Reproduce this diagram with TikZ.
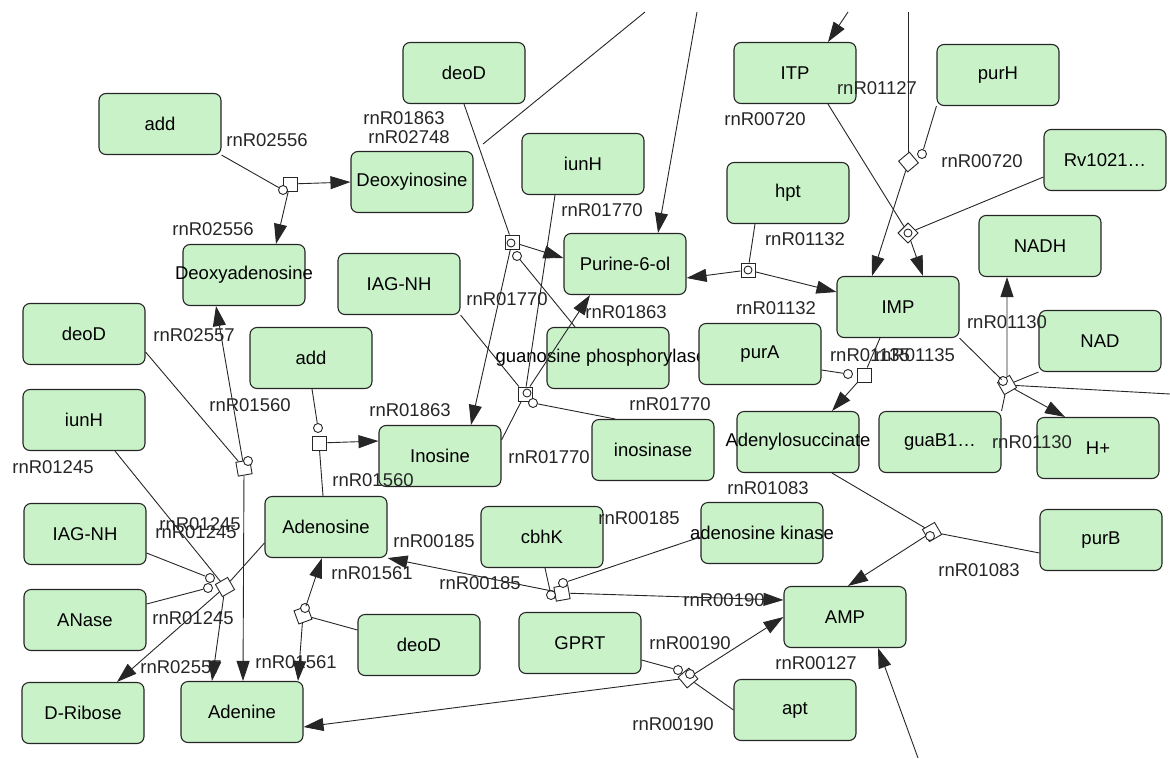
\documentclass[tikz,border=0pt]{standalone}
\usepackage{fontspec}
\setmainfont{Liberation Sans}
\usetikzlibrary{arrows.meta}
\definecolor{boxgreen}{HTML}{C9F2C9}
\newcommand{\mytx}[1]{\makebox[0pt][c]{#1}}
\begin{document}
\begin{tikzpicture}[x=1pt,y=-1pt,
  every node/.style={font=\fontsize{18.5}{20}\selectfont},
  ent/.style={draw=black!85, line width=1.1pt, fill=boxgreen, rounded corners=7pt, minimum width=122pt, minimum height=61pt, inner sep=0pt},
  rxn/.style={draw=black!85, fill=white, line width=0.9pt, minimum size=14pt, inner sep=0pt},
  cat/.style={circle, draw=black!85, fill=white, line width=0.9pt, minimum size=9pt, inner sep=0pt},
  lbl/.style={text=black!85, inner sep=0pt},
  con/.style={draw=black!85, line width=0.9pt},
  arr/.style={con, -{Triangle[length=20pt,width=13pt]}},
]
\useasboundingbox (0,0) rectangle (1170,758);

% entities
\node[ent] (add1) at (160,124) {\mytx{add}};
\node[ent] (deoD1) at (464,73) {\mytx{deoD}};
\node[ent] (dino) at (412,182) {\mytx{Deoxyinosine}};
\node[ent] (iunH1) at (583,164) {\mytx{iunH}};
\node[ent] (itp) at (795,73) {\mytx{ITP}};
\node[ent] (purH) at (998,75) {\mytx{purH}};
\node[ent] (rv) at (1105,160) {\mytx{Rv1021…}};
\node[ent] (hpt) at (788,193) {\mytx{hpt}};
\node[ent] (dade) at (244,275) {\mytx{Deoxyadenosine}};
\node[ent] (iag1) at (399,284) {\mytx{IAG-NH}};
\node[ent] (pur) at (625,264) {\mytx{Purine-6-ol}};
\node[ent] (nadh) at (1040,246) {\mytx{NADH}};
\node[ent] (imp) at (898,307) {\mytx{IMP}};
\node[ent] (deoD2) at (84,334) {\mytx{deoD}};
\node[ent] (add2) at (311,358) {\mytx{add}};
\node[ent] (gp) at (608,358) {\mytx{\hspace*{-14pt}guanosine phosphorylase}};
\node[ent] (purA) at (760,354) {\mytx{purA}};
\node[ent] (nad) at (1100,341) {\mytx{NAD}};
\node[ent] (iunH2) at (84,420) {\mytx{iunH}};
\node[ent] (ino) at (440,456) {\mytx{Inosine}};
\node[ent] (inase) at (653,450) {\mytx{inosinase}};
\node[ent] (adsu) at (798,442) {\mytx{Adenylosuccinate}};
\node[ent] (guaB) at (940,442) {\mytx{guaB1…}};
\node[ent] (hp) at (1098,448) {\mytx{H+}};
\node[ent] (ados) at (326,527) {\mytx{Adenosine}};
\node[ent] (iag2) at (85,534) {\mytx{IAG-NH}};
\node[ent] (cbhK) at (542,537) {\mytx{cbhK}};
\node[ent] (adk) at (762,533) {\mytx{adenosine kinase}};
\node[ent] (purB) at (1101,540) {\mytx{purB}};
\node[ent] (anase) at (85,620) {\mytx{ANase}};
\node[ent] (amp) at (845,617) {\mytx{AMP}};
\node[ent] (deoD3) at (419,645) {\mytx{deoD}};
\node[ent] (gprt) at (580,643) {\mytx{GPRT}};
\node[ent] (aden) at (242,712) {\mytx{Adenine}};
\node[ent] (drib) at (83,713) {\mytx{D-Ribose}};
\node[ent] (apt) at (795,710) {\mytx{apt}};

% free ends
\coordinate (topA) at (645,12);
\coordinate (jA) at (483,144);
\coordinate (topB) at (697,12);
\coordinate (topC) at (848,12);
\coordinate (topD) at (908.5,12);
\coordinate (rightE) at (1170,394);
\coordinate (botF) at (918,758);

% reaction nodes
\node[rxn] (s1) at (290,184) {};
\node[cat] (c1) at (283,190) {};
\node[rxn] (sU) at (512,242) {};
\node[cat, minimum size=8pt] (cU1) at (511,243) {};
\node[cat] (cU2) at (517,256) {};
\node[rxn] (sL) at (525,394) {};
\node[cat, minimum size=8pt] (cL1) at (527,393) {};
\node[cat] (cL2) at (533,403) {};
\node[rxn, rotate=10] (sA) at (244,468) {};
\node[cat] (cA) at (248,461) {};
\node[rxn] (sB) at (319,443) {};
\node[cat] (cB) at (318,428) {};
\node[rxn, rotate=30] (sC) at (225,587) {};
\node[cat] (cC1) at (210,578) {};
\node[cat] (cC2) at (208,588) {};
\node[rxn, rotate=20] (sD) at (303,615) {};
\node[cat] (cD) at (305,608) {};
\node[rxn, rotate=10] (sE) at (562,593) {};
\node[cat] (cE1) at (551,595) {};
\node[cat] (cE2) at (563,583) {};
\node[rxn, rotate=40] (sF) at (688,678) {};
\node[cat] (cF1) at (678,670) {};
\node[cat] (cF2) at (690,674) {};
\node[rxn, rotate=30] (sG) at (932,532) {};
\node[cat] (cG) at (930,536) {};
\node[rxn] (sH) at (748,270) {};
\node[cat, minimum size=8pt] (cH) at (748,270) {};
\node[rxn] (sI) at (864,375) {};
\node[cat] (cI) at (848,374) {};
\node[rxn, rotate=40] (sJ) at (908.5,162) {};
\node[cat] (cJ) at (922,154) {};
\node[rxn, rotate=45] (sK) at (908,233) {};
\node[cat, minimum size=8pt] (cK) at (908,233) {};
\node[rxn, rotate=30] (sM) at (1007,385) {};
\node[cat] (cM) at (1003,381) {};

% connectors
\draw[con] (add1.south east) -- (c1);
\draw[arr] (s1) -- ([xshift=32pt]dade.north);
\draw[arr] (s1) -- (dino.west);
\draw[con] (deoD1.south) -- (sU);
\draw[con] (topA) -- (jA);
\draw[arr] (sU) -- ([yshift=6pt]pur.west);
\draw[arr] (sU) -- ([xshift=31pt]ino.north);
\draw[con] ([xshift=-33pt]gp.north) -- (cU2);
\draw[arr] (topB) -- ([xshift=33pt]pur.north);
\draw[con] ([xshift=-28pt]iunH1.south) -- (sL);
\draw[con] (iag1.south east) -- (sL);
\draw[con] ([yshift=16pt]ino.east) -- (sL);
\draw[arr] (sL) -- ([xshift=-35pt]pur.south);
\draw[con] (cL2) -- ([xshift=-38pt]inase.north);
\draw[con] ([xshift=-33pt]hpt.south) -- (sH);
\draw[arr] (sH) -- ([yshift=-14pt]pur.east);
\draw[arr] (sH) -- ([yshift=15pt]imp.west);
\draw[arr] (topC) -- ([xshift=33pt]itp.north);
\draw[con] (topD) -- (sJ);
\draw[con] (purH.south west) -- (cJ);
\draw[arr] (sJ) -- ([xshift=-26pt]imp.north);
\draw[con] ([xshift=33pt]itp.south) -- (sK);
\draw[con] ([yshift=-17pt]rv.west) -- (sK);
\draw[arr] (sK) -- ([xshift=25pt]imp.north);
\draw[con] (imp.south east) -- (sM);
\draw[arr] (sM) -- ([xshift=-33pt]nadh.south);
\draw[con] (nad.south west) -- (sM);
\draw[con] (sM) -- (rightE);
\draw[con] (guaB.north east) -- (sM);
\draw[arr] (sM) -- ([xshift=-33pt]hp.north);
\draw[con] ([yshift=-16pt]purA.east) -- (cI);
\draw[con] ([xshift=-18pt]imp.south) -- (sI);
\draw[arr] (sI) -- ([xshift=34pt]adsu.north);
\draw[con] ([xshift=34pt]adsu.south) -- (sG);
\draw[con] ([yshift=-13pt]purB.west) -- (sG);
\draw[arr] (sG) -- ([xshift=3pt]amp.north);
\draw[arr] (botF) -- ([xshift=33pt]amp.south);
\draw[con] ([yshift=-18pt]deoD2.east) -- (sA);
\draw[arr] (sA) -- ([xshift=-28pt]dade.south);
\draw[arr] (sA) -- ([xshift=1pt]aden.north);
\draw[con] ([xshift=1pt]add2.south) -- (cB);
\draw[con] ([xshift=-3pt]ados.north) -- (sB);
\draw[arr] (sB) -- ([yshift=15pt]ino.west);
\draw[con] ([xshift=31pt]iunH2.south) -- (sC);
\draw[con] ([yshift=-19pt]iag2.east) -- (cC1);
\draw[con] ([yshift=16pt]anase.east) -- (cC2);
\draw[con] ([yshift=-16pt]ados.west) -- (sC);
\draw[arr] (sC) -- ([xshift=34pt]drib.north);
\draw[arr] (sC) -- ([xshift=-30pt]aden.north);
\draw[con] ([yshift=15pt]deoD3.west) -- (sD);
\draw[arr] (sD) -- ([xshift=-4pt]ados.south);
\draw[arr] (sD) -- ([xshift=56pt]aden.north);
\draw[con] ([xshift=3pt]cbhK.south) -- (cE1);
\draw[arr] (sE) -- (ados.south east);
\draw[con] (cE2) -- ([yshift=-4pt]adk.west);
\draw[arr] (sE) -- ([yshift=17pt]amp.west);
\draw[con] ([yshift=-17pt]gprt.east) -- (cF1);
\draw[con] (apt.west) -- (sF);
\draw[arr] (sF) -- (amp.west);
\draw[arr] (sF) -- ([yshift=-15pt]aden.east);

% labels
\node[lbl] (l1) at (267,140) {rnR02556};
\node[lbl] (l2) at (213,229) {rnR02556};
\node[lbl] (l3) at (404,118) {rnR01863};
\node[lbl] (l4) at (409,137) {rnR02748};
\node[lbl] (l5) at (602,210) {rnR01770};
\node[lbl] (l6) at (765,119) {rnR00720};
\node[lbl] (l7) at (877,88) {rnR01127};
\node[lbl] (l8) at (982,161) {rnR00720};
\node[lbl] (l9) at (805,239) {rnR01132};
\node[lbl] (l10) at (776,308) {rnR01132};
\node[lbl] (l11) at (626,312) {rnR01863};
\node[lbl] (l12) at (507,299) {rnR01770};
\node[lbl] (l13) at (1007,322) {rnR01130};
\node[lbl] (l14) at (870,355) {rnR01135};
\node[lbl] (l15) at (915,355) {rnR01135};
\node[lbl] (l16) at (410,410) {rnR01863};
\node[lbl] (l17) at (670,404) {rnR01770};
\node[lbl] (l18) at (549,457) {rnR01770};
\node[lbl] (l19) at (373,480) {rnR01560};
\node[lbl] (l20) at (250,405) {rnR01560};
\node[lbl] (l21) at (194,335) {rnR02557};
\node[lbl] (l22) at (53,467) {rnR01245};
\node[lbl] (l23) at (200,524) {rnR01245};
\node[lbl] (l24) at (196,532) {rnR01245};
\node[lbl] (l25) at (193,618) {rnR01245};
\node[lbl] (l26) at (181,667) {rnR02557};
\node[lbl] (l27) at (296,662) {rnR01561};
\node[lbl] (l28) at (372,573) {rnR01561};
\node[lbl] (l29) at (434,541) {rnR00185};
\node[lbl] (l30) at (480,583) {rnR00185};
\node[lbl] (l31) at (639,518) {rnR00185};
\node[lbl] (l32) at (768,488) {rnR01083};
\node[lbl] (l33) at (1032,442) {rnR01130};
\node[lbl] (l34) at (979,570) {rnR01083};
\node[lbl] (l35) at (724,600) {rnR00190};
\node[lbl] (l36) at (690,643) {rnR00190};
\node[lbl] (l37) at (816,663) {rnR00127};
\node[lbl] (l38) at (673,724) {rnR00190};
\end{tikzpicture}
\end{document}
